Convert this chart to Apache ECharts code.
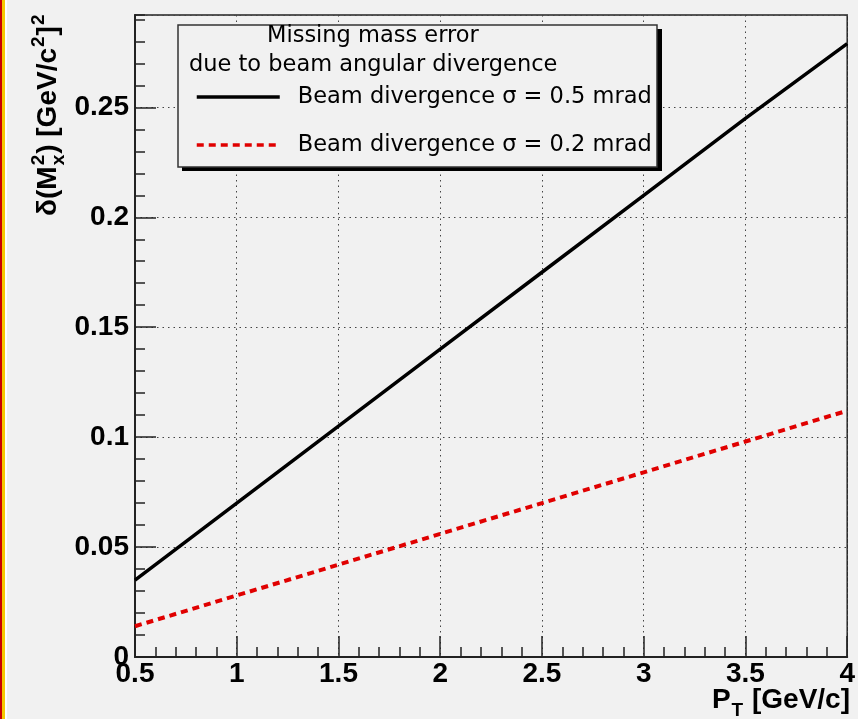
<!DOCTYPE html>
<html>
<head>
<meta charset="utf-8">
<title>Missing mass error vs P_T</title>
<script src="https://cdn.jsdelivr.net/npm/echarts@6/dist/echarts.min.js"></script>
<style>
  html, body { margin: 0; padding: 0; background: #f1f1f1; }
  #chart { width: 858px; height: 719px; }
</style>
</head>
<body>
<div id="chart"></div>
<script>
// Transverse momentum points (GeV/c)
const pt = [0.5, 1, 1.5, 2, 2.5, 3, 3.5, 4];
// δ(M_x^2) for beam divergence σ = 0.5 mrad
const sigma05 = [0.035, 0.070, 0.105, 0.140, 0.175, 0.210, 0.245, 0.279];
// δ(M_x^2) for beam divergence σ = 0.2 mrad
const sigma02 = [0.014, 0.028, 0.042, 0.056, 0.070, 0.084, 0.098, 0.112];

// Axis ticks
const xTickLabels = ['0.5', '1', '1.5', '2', '2.5', '3', '3.5', '4'];
const yTickLabels = ['0', '0.05', '0.1', '0.15', '0.2', '0.25'];
const yTop = 0.292;

const seriesNames = ['Beam divergence \u03c3 = 0.5 mrad', 'Beam divergence \u03c3 = 0.2 mrad'];
const legendHeader = ['Missing mass error', 'due to beam angular divergence'];

const xTicks = xTickLabels.map(Number);
const yTicks = yTickLabels.map(Number);
const xStep = xTicks[1] - xTicks[0];
const yStep = yTicks[1] - yTicks[0];

const BG = '#f1f1f1';
const INK = '#222';
const GRID = { left: 135, right: 8, top: 15, bottom: 62 };

// ---- text helpers for titles with sub/superscripts ----
const ctx = document.createElement('canvas').getContext('2d');
function textWidth(str, size, weight, family) {
  ctx.font = `${weight} ${size}px ${family}`;
  return ctx.measureText(str).width;
}
const TFAM = '"Liberation Sans", Arial, sans-serif';
const MAIN = 28, SMALL = 19;
function mathText(pieces) {
  let x = 0;
  const kids = [];
  const txt = (s, px, size, baseline) => kids.push({
    type: 'text', x: px, y: baseline - 0.33 * size,
    style: { text: s, fontSize: size, fontWeight: 'bold', fontFamily: TFAM,
             fill: '#000', verticalAlign: 'middle', align: 'left' }
  });
  pieces.forEach(p => {
    if (p.t !== undefined) {
      txt(p.t, x, MAIN, 0);
      x += textWidth(p.t, MAIN, 'bold', TFAM);
    } else {
      let w = 0;
      if (p.sup) { txt(p.sup, x + 1, SMALL, -13); w = Math.max(w, textWidth(p.sup, SMALL, 'bold', TFAM)); }
      if (p.sub) { txt(p.sub, x + 1, SMALL, 7); w = Math.max(w, textWidth(p.sub, SMALL, 'bold', TFAM)); }
      x += w + 2;
    }
  });
  return { kids, width: x };
}

const yTitle = mathText([
  { t: '\u03b4(M' }, { sup: '2', sub: 'x' }, { t: ') [GeV/c' }, { sup: '2' }, { t: ']' }, { sup: '2' }
]);
const xTitle = mathText([
  { t: 'P' }, { sub: 'T' }, { t: ' [GeV/c]' }
]);

const chart = echarts.init(document.getElementById('chart'), null, { renderer: 'canvas' });

const option = {
  backgroundColor: BG,
  animation: false,
  grid: {
    left: GRID.left, right: GRID.right, top: GRID.top, bottom: GRID.bottom,
    show: true, borderColor: INK, borderWidth: 1.5, backgroundColor: 'transparent'
  },
  xAxis: {
    type: 'value',
    min: xTicks[0], max: xTicks[xTicks.length - 1], interval: xStep,
    axisLine: { onZero: false, lineStyle: { color: INK, width: 2 } },
    axisTick: { inside: true, length: 21, lineStyle: { color: INK, width: 1.5 } },
    minorTick: { show: true, splitNumber: 5, length: 10, lineStyle: { color: INK, width: 1.5 } },
    splitLine: { show: true, lineStyle: { color: '#444', width: 1, type: [1.5, 4] } },
    axisLabel: {
      margin: 3, color: '#000', fontSize: 28, fontWeight: 'bold', fontFamily: TFAM,
      formatter: v => { const i = xTicks.findIndex(t => Math.abs(t - v) < 1e-9); return i >= 0 ? xTickLabels[i] : ''; }
    }
  },
  yAxis: [
    {
      type: 'value',
      min: yTicks[0], max: yTop, interval: yStep,
      axisLine: { show: true, onZero: false, lineStyle: { color: INK, width: 2 } },
      axisTick: { show: true, inside: true, length: 21, lineStyle: { color: INK, width: 1.5 } },
      splitLine: { show: true, lineStyle: { color: '#444', width: 1, type: [1.5, 4] } },
      axisLabel: {
        margin: 6, color: '#000', fontSize: 28, fontWeight: 'bold', fontFamily: TFAM,
        showMaxLabel: false,
        formatter: v => { const i = yTicks.findIndex(t => Math.abs(t - v) < 1e-9); return i >= 0 ? yTickLabels[i] : ''; }
      }
    },
    {
      // minor ticks every 0.01 up to the top of the frame
      type: 'value', position: 'left',
      min: yTicks[0], max: yTop, interval: yStep / 5,
      axisLine: { show: false },
      axisTick: { show: true, inside: true, length: 10, lineStyle: { color: INK, width: 1.5 } },
      splitLine: { show: false },
      axisLabel: { show: false }
    }
  ],
  legend: {
    orient: 'vertical',
    left: 195, top: 84,
    padding: 0,
    itemWidth: 83, itemHeight: 14, itemGap: 22,
    itemStyle: { opacity: 0 },
    lineStyle: { width: 3.5 },
    z: 6,
    textStyle: { fontFamily: '"DejaVu Sans", sans-serif', fontSize: 22.5, color: '#000', lineHeight: 26, padding: [0, 0, 0, 13] },
    data: seriesNames
  },
  series: [
    {
      name: seriesNames[0], type: 'line', yAxisIndex: 0,
      data: pt.map((x, i) => [x, sigma05[i]]),
      showSymbol: false, symbol: 'none',
      lineStyle: { color: '#000', width: 3.5 },
      itemStyle: { color: '#000' },
      z: 3
    },
    {
      name: seriesNames[1], type: 'line', yAxisIndex: 0,
      data: pt.map((x, i) => [x, sigma02[i]]),
      showSymbol: false, symbol: 'none',
      lineStyle: { color: '#e00000', width: 4, type: [7, 5] },
      itemStyle: { color: '#e00000' },
      z: 3
    }
  ],
  graphic: [
    // window border strip on the left edge
    { type: 'rect', shape: { x: 0, y: 0, width: 2, height: 719 }, style: { fill: '#c80000' }, z: 10 },
    { type: 'rect', shape: { x: 2, y: 0, width: 3, height: 719 }, style: { fill: '#f5c800' }, z: 10 },
    { type: 'rect', shape: { x: 5, y: 0, width: 2, height: 719 }, style: { fill: '#ffffff' }, z: 10 },
    // legend box with drop shadow
    { type: 'rect', shape: { x: 182, y: 29, width: 480, height: 142 }, style: { fill: '#000' }, z: 4 },
    { type: 'rect', shape: { x: 178, y: 25, width: 479, height: 142 }, style: { fill: BG, stroke: '#333', lineWidth: 1.5 }, z: 4 },
    {
      type: 'text', x: 267, y: 36, z: 5,
      style: { text: legendHeader[0], fontFamily: '"DejaVu Sans", sans-serif', fontSize: 22.5, fill: '#000', verticalAlign: 'middle' }
    },
    {
      type: 'text', x: 189, y: 65, z: 5,
      style: { text: legendHeader[1], fontFamily: '"DejaVu Sans", sans-serif', fontSize: 22.5, fill: '#000', verticalAlign: 'middle' }
    },
    // axis titles
    { type: 'group', x: 58, y: 216, rotation: Math.PI / 2, children: yTitle.kids, z: 5 },
    { type: 'group', x: 850 - xTitle.width, y: 710, children: xTitle.kids, z: 5 }
  ]
};

chart.setOption(option);
</script>
</body>
</html>
